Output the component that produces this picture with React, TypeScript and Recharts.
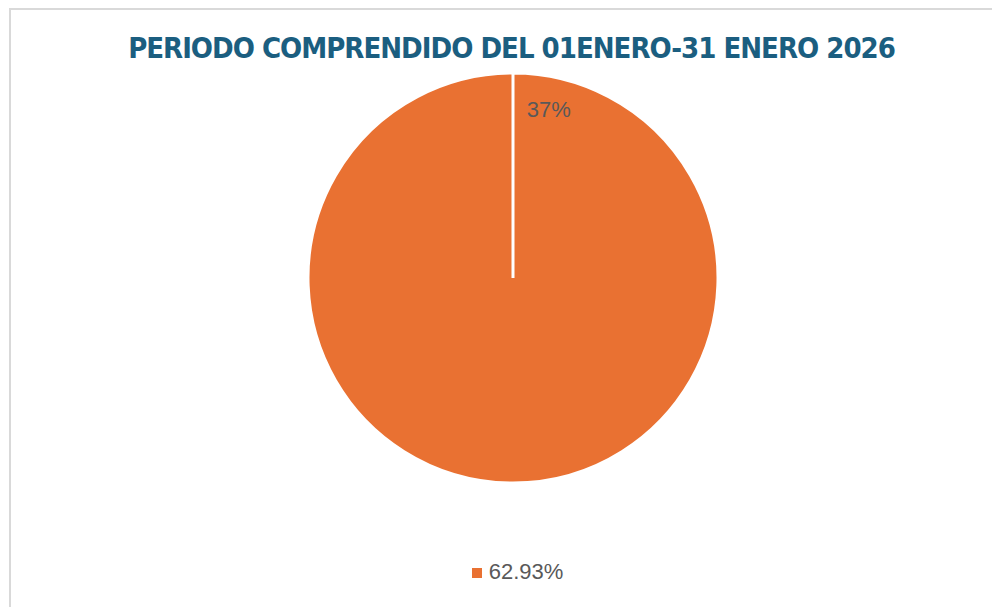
import React from 'react';
import { PieChart, Pie, Cell, Legend } from 'recharts';

const SLICE_NAMES = ['62.93%'];
const SLICE_VALUES = [100];
const SLICE_LABELS = ['37%'];
const COLORS = ['#E97132'];

const TITLE = 'PERIODO COMPRENDIDO DEL 01ENERO-31 ENERO 2026';

const chartData = SLICE_NAMES.map((name, i) => ({
  name,
  value: SLICE_VALUES[i],
  label: SLICE_LABELS[i],
}));

const RADIAN = Math.PI / 180;

function renderLabel(props: any) {
  const { cx, cy, outerRadius, startAngle, index } = props;
  const angle = startAngle - 12;
  const r = outerRadius * 0.84;
  const x = cx + r * Math.cos(angle * RADIAN);
  const y = cy - r * Math.sin(angle * RADIAN);
  return (
    <text
      x={x}
      y={y}
      fill="#595959"
      fontSize={22}
      fontFamily="Liberation Sans, Arial, sans-serif"
      textAnchor="middle"
      dominantBaseline="central"
    >
      {chartData[index].label}
    </text>
  );
}

function App() {
  return (
    <div
      style={{
        position: 'relative',
        width: 991,
        height: 599,
        marginLeft: 1,
        borderTop: '2px solid #d9d9d9',
        borderLeft: '2px solid #d9d9d9',
        boxSizing: 'border-box',
        background: '#fff',
        overflow: 'hidden',
      }}
    >
      <div
        style={{
          position: 'absolute',
          top: 21,
          left: 0,
          width: 989,
          textAlign: 'center',
          fontFamily: '"DejaVu Sans Condensed", "DejaVu Sans", sans-serif',
          fontWeight: 'bold',
          fontSize: 29,
          color: '#1B5E80',
          letterSpacing: -1,
          paddingLeft: 12,
          boxSizing: 'border-box',
        }}
      >
        {TITLE}
      </div>
      <PieChart width={989} height={597} style={{ position: 'absolute', top: 0, left: 0 }}>
        <Pie
          data={chartData}
          dataKey="value"
          nameKey="name"
          cx={497}
          cy={263}
          outerRadius={205}
          startAngle={90}
          endAngle={-270}
          stroke="#ffffff"
          strokeWidth={3}
          labelLine={false}
          label={renderLabel}
          isAnimationActive={false}
        >
          {chartData.map((entry, index) => (
            <Cell key={`cell-${index}`} fill={COLORS[index % COLORS.length]} />
          ))}
        </Pie>
        <Legend
          iconType="square"
          iconSize={10}
          wrapperStyle={{
            top: 549,
            left: 22,
            fontSize: 22,
            fontFamily: 'Liberation Sans, Arial, sans-serif',
          }}
          formatter={(value: string) => (
            <span style={{ color: '#595959', fontSize: 22, marginLeft: 3 }}>{value}</span>
          )}
        />
      </PieChart>
    </div>
  );
}

export default App;
